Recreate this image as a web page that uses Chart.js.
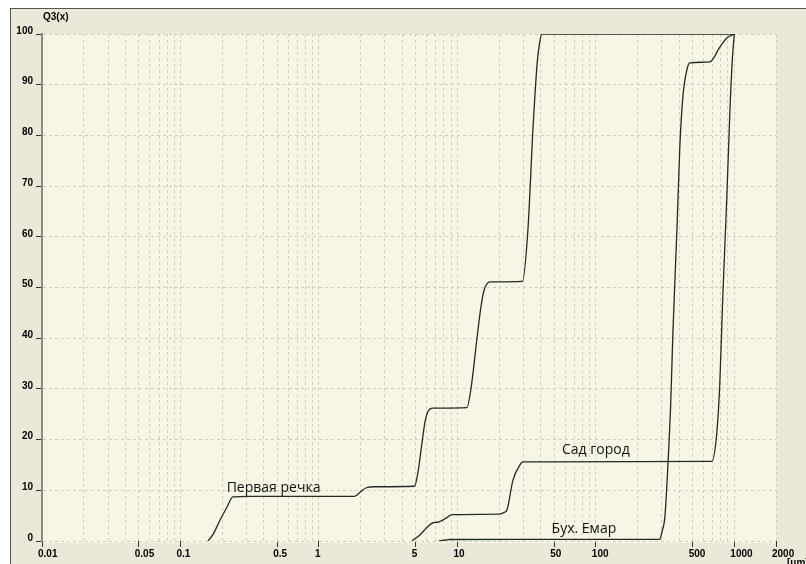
<!DOCTYPE html>
<html>
<head>
<meta charset="utf-8">
<script src="https://cdn.jsdelivr.net/npm/chart.js@4"></script>
<style>
  html, body { margin: 0; padding: 0; background: #fff; }
  canvas { display: block; }
</style>
</head>
<body>
<canvas id="q3Chart" width="806" height="564"></canvas>
<script>
// --- données (Q3(x) en %, x en µm, axe log) ---
const xTickLabels = ['0.01', '0.05', '0.1', '0.5', '1', '5', '10', '50', '100', '500', '1000', '2000'];

// Первая речка
const pervayaX = [0.158, 0.171, 0.193, 0.217, 0.239, 0.32, 1.8, 2.0, 2.2, 2.5, 4.9, 5.18, 5.5, 5.82, 6.1, 6.65, 11.7, 12.5, 13.8, 14.8, 15.6, 17.2, 29.5, 32.3, 35.1, 37.7, 39.0, 40.7, 1000];
const pervayaY = [0, 1.2, 4.1, 6.7, 8.7, 8.8, 8.8, 9.7, 10.5, 10.7, 10.8, 13.4, 18.5, 23.3, 25.4, 26.2, 26.3, 29.8, 39.6, 46.2, 49.5, 51.1, 51.2, 61.3, 81.0, 94.3, 97.8, 100, 100];

// Сад город
const sadX = [4.69, 5.36, 6.0, 6.65, 7.2, 8.5, 9.1, 19.9, 22.0, 22.8, 25.2, 28.3, 29.7, 688, 747, 786, 825, 883, 928, 970, 1000];
const sadY = [0, 1.2, 2.6, 3.6, 3.7, 4.7, 5.2, 5.3, 5.7, 6.1, 12.0, 15.0, 15.6, 15.7, 21.3, 31.2, 48.0, 67.9, 84.4, 95.5, 100];

// Бух. Емар
const emarX = [7.35, 8.1, 8.83, 10.4, 290, 300, 315, 331, 348, 360, 385, 404, 425, 454, 477, 665, 786, 883, 1000];
const emarY = [0, 0.15, 0.3, 0.3, 0.35, 1.8, 4.7, 14.6, 27.8, 41.0, 61.3, 77.7, 87.6, 92.9, 94.3, 94.5, 97.4, 99.2, 100];

function toPoints(xs, ys) {
    return xs.map((x, i) => ({ x: x, y: ys[i] }));
}

function labelFor(value) {
    const found = xTickLabels.find(l => Math.abs(parseFloat(l) - value) < value * 1e-6);
    return found || '';
}

const tickFont = { family: 'Liberation Sans', weight: 'bold', size: 10 };
const gridColor = '#d2cfba';
const lineColor = '#262a26';

// fond de fenêtre, zone de tracé, titres et étiquettes
const framePlugin = {
    id: 'frame',
    beforeDraw(chart) {
        const { ctx, chartArea: a, width, height } = chart;
        ctx.save();
        ctx.fillStyle = '#ffffff';
        ctx.fillRect(0, 0, width, height);
        ctx.fillStyle = '#ebe8da';
        ctx.fillRect(10, 8, width - 10, height - 8);
        ctx.strokeStyle = '#555';
        ctx.lineWidth = 1;
        ctx.beginPath();
        ctx.moveTo(10, 8.5); ctx.lineTo(width, 8.5);
        ctx.moveTo(10.5, 8); ctx.lineTo(10.5, height);
        ctx.stroke();
        ctx.fillStyle = '#f6f5e6';
        ctx.fillRect(a.left, a.top, a.right - a.left, a.bottom - a.top + 2);
        ctx.restore();
    },
    afterDraw(chart) {
        const { ctx, chartArea: a } = chart;
        ctx.save();
        ctx.fillStyle = '#000';
        ctx.font = 'bold 10px "Liberation Sans"';
        ctx.textBaseline = 'alphabetic';
        ctx.textAlign = 'left';
        ctx.fillText('Q3(x)', a.left + 1, a.top - 14);
        ctx.fillText('[\u03bcm]', a.right + 11, a.bottom + 25);
        ctx.restore();
    },
    afterDatasetsDraw(chart) {
        const { ctx, scales } = chart;
        const notes = [
            { text: 'Первая речка', x: 0.47, y: 9.7 },
            { text: 'Сад город', x: 100, y: 17.1 },
            { text: 'Бух. Емар', x: 82, y: 1.6 }
        ];
        ctx.save();
        ctx.fillStyle = '#111';
        ctx.font = '14px "Open Sans"';
        ctx.textAlign = 'center';
        ctx.textBaseline = 'alphabetic';
        notes.forEach(n => {
            ctx.fillText(n.text, scales.x.getPixelForValue(n.x), scales.y.getPixelForValue(n.y));
        });
        ctx.restore();
    }
};

const seriesStyle = {
    showLine: true,
    borderColor: lineColor,
    borderWidth: 1.3,
    pointRadius: 0,
    cubicInterpolationMode: 'monotone',
    fill: false
};

new Chart(document.getElementById('q3Chart'), {
    type: 'scatter',
    data: {
        datasets: [
            Object.assign({ label: 'Первая речка', data: toPoints(pervayaX, pervayaY) }, seriesStyle),
            Object.assign({ label: 'Сад город', data: toPoints(sadX, sadY) }, seriesStyle),
            Object.assign({ label: 'Бух. Емар', data: toPoints(emarX, emarY) }, seriesStyle)
        ]
    },
    options: {
        responsive: false,
        devicePixelRatio: 1,
        animation: false,
        layout: { padding: { top: 34, right: 30, left: 0, bottom: 0 } },
        plugins: { legend: { display: false }, tooltip: { enabled: false } },
        scales: {
            x: {
                type: 'logarithmic',
                min: 0.01,
                max: 2000,
                afterBuildTicks: (scale) => {
                    const ticks = [];
                    for (let e = -2; e <= 3; e++) {
                        for (let m = 1; m <= 9; m++) {
                            const v = Number((m * Math.pow(10, e)).toPrecision(6));
                            if (v >= 0.01 && v <= 2000) ticks.push({ value: v });
                        }
                    }
                    scale.ticks = ticks;
                },
                afterFit: (scale) => {
                    scale.height = 23;
                    scale.paddingLeft = 0;
                    scale.paddingRight = 0;
                },
                border: { display: false, dash: [3, 3] },
                grid: {
                    color: gridColor,
                    lineWidth: 1,
                    drawTicks: true,
                    tickLength: 6,
                    tickBorderDash: [],
                    tickColor: (ctx) => (ctx.tick && labelFor(ctx.tick.value)) ? '#333' : 'rgba(0,0,0,0)'
                },
                ticks: {
                    autoSkip: false,
                    maxRotation: 0,
                    minRotation: 0,
                    align: 'start',
                    labelOffset: -4,
                    padding: 1,
                    color: '#000',
                    font: tickFont,
                    callback: (value) => labelFor(value)
                }
            },
            y: {
                min: 0,
                max: 100,
                afterFit: (scale) => {
                    scale.width = 42;
                    scale.paddingTop = 0;
                    scale.paddingBottom = 0;
                },
                border: { display: true, color: '#8c8b80', width: 2, dash: [3, 3] },
                grid: {
                    color: gridColor,
                    lineWidth: 1,
                    tickLength: 6,
                    tickBorderDash: [],
                    tickColor: '#333'
                },
                ticks: {
                    stepSize: 10,
                    padding: 3,
                    labelOffset: -3,
                    color: '#000',
                    font: tickFont
                }
            }
        }
    },
    plugins: [framePlugin]
});
</script>
</body>
</html>
